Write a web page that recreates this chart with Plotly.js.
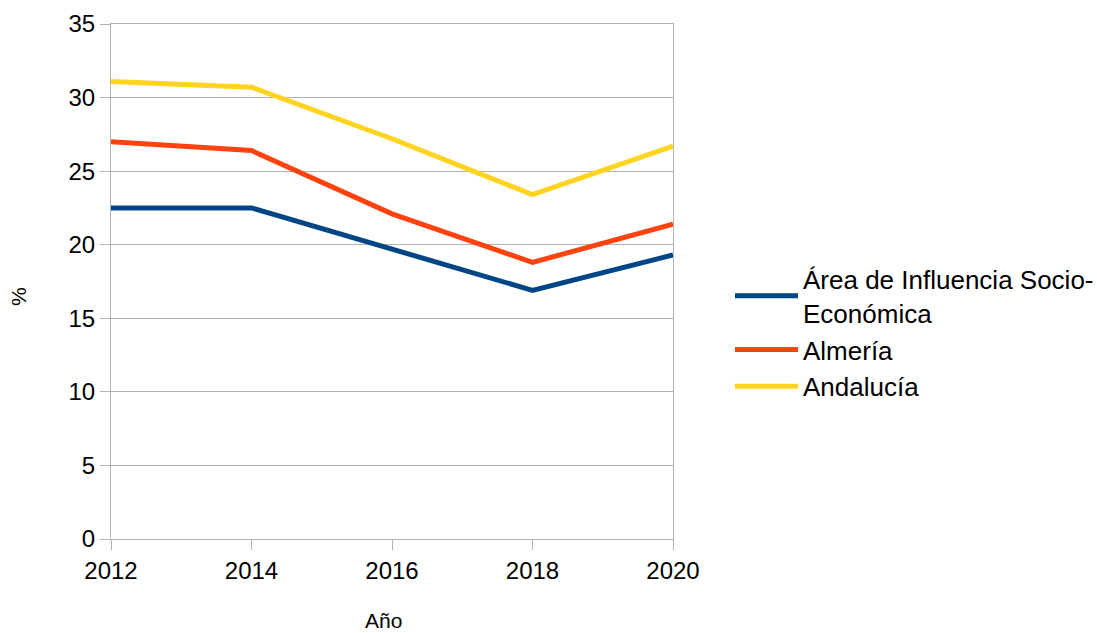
<!DOCTYPE html>
<html>
<head>
<meta charset="utf-8">
<script src="https://cdn.plot.ly/plotly-3.0.1.min.js"></script>
<style>html,body{margin:0;padding:0;background:#fff;}#chart{width:1097px;height:633px;}</style>
</head>
<body>
<div id="chart"></div>
<script>
const years = [2012, 2014, 2016, 2018, 2020];
const seriesNames = ["Área de Influencia Socio-<br>Económica", "Almería", "Andalucía"];
const areaInfluencia = [22.5, 22.5, 19.7, 16.9, 19.3];
const almeria = [27.0, 26.4, 22.1, 18.8, 21.4];
const andalucia = [31.1, 30.7, 27.2, 23.4, 26.7];
const colors = ["#004586", "#ff420e", "#ffd320"];
const xTitle = "Año";
const yTitle = "%";

const allSeries = [areaInfluencia, almeria, andalucia];
const traces = allSeries.map((vals, i) => ({
  x: years,
  y: vals,
  name: seriesNames[i],
  type: "scatter",
  mode: "lines",
  line: {color: colors[i], width: 5},
  hoverinfo: "x+y+name"
}));

const font = {family: "Liberation Sans, Arial, sans-serif", color: "#000"};

const layout = {
  width: 1097,
  height: 633,
  margin: {l: 111, r: 424, t: 24, b: 94},
  paper_bgcolor: "#fff",
  plot_bgcolor: "#fff",
  font: Object.assign({size: 24}, font),
  showlegend: true,
  legend: {
    xref: "container", yref: "container",
    x: 730 / 1097, xanchor: "left",
    y: (633 - 333) / 633, yanchor: "middle",
    font: Object.assign({size: 26}, font),
    itemwidth: 63,
    borderwidth: 0,
    bgcolor: "rgba(0,0,0,0)"
  },
  xaxis: {
    range: [2012, 2020],
    tickvals: years,
    ticktext: years.map(String),
    showgrid: false,
    zeroline: false,
    showline: true,
    mirror: true,
    linecolor: "#b3b3b3",
    linewidth: 1,
    ticks: "outside",
    ticklen: 10,
    tickcolor: "#b3b3b3",
    tickfont: Object.assign({size: 24}, font)
  },
  yaxis: {
    range: [0, 35],
    dtick: 5,
    tick0: 0,
    showgrid: true,
    gridcolor: "#b3b3b3",
    gridwidth: 1,
    zeroline: false,
    showline: true,
    mirror: true,
    linecolor: "#b3b3b3",
    linewidth: 1,
    ticks: "outside",
    ticklen: 10,
    tickcolor: "#b3b3b3",
    tickfont: Object.assign({size: 24}, font)
  },
  annotations: [
    {text: xTitle, xref: "paper", yref: "paper", x: (383 - 111) / 562, y: (539 - 620) / 515,
     xanchor: "center", yanchor: "middle", showarrow: false, font: Object.assign({size: 21}, font)},
    {text: yTitle, xref: "paper", yref: "paper", x: (18 - 111) / 562, y: (539 - 297) / 515,
     xanchor: "center", yanchor: "middle", textangle: -90, showarrow: false, font: Object.assign({size: 21}, font)}
  ]
};

Plotly.newPlot("chart", traces, layout, {displayModeBar: false, staticPlot: true});
</script>
</body>
</html>
